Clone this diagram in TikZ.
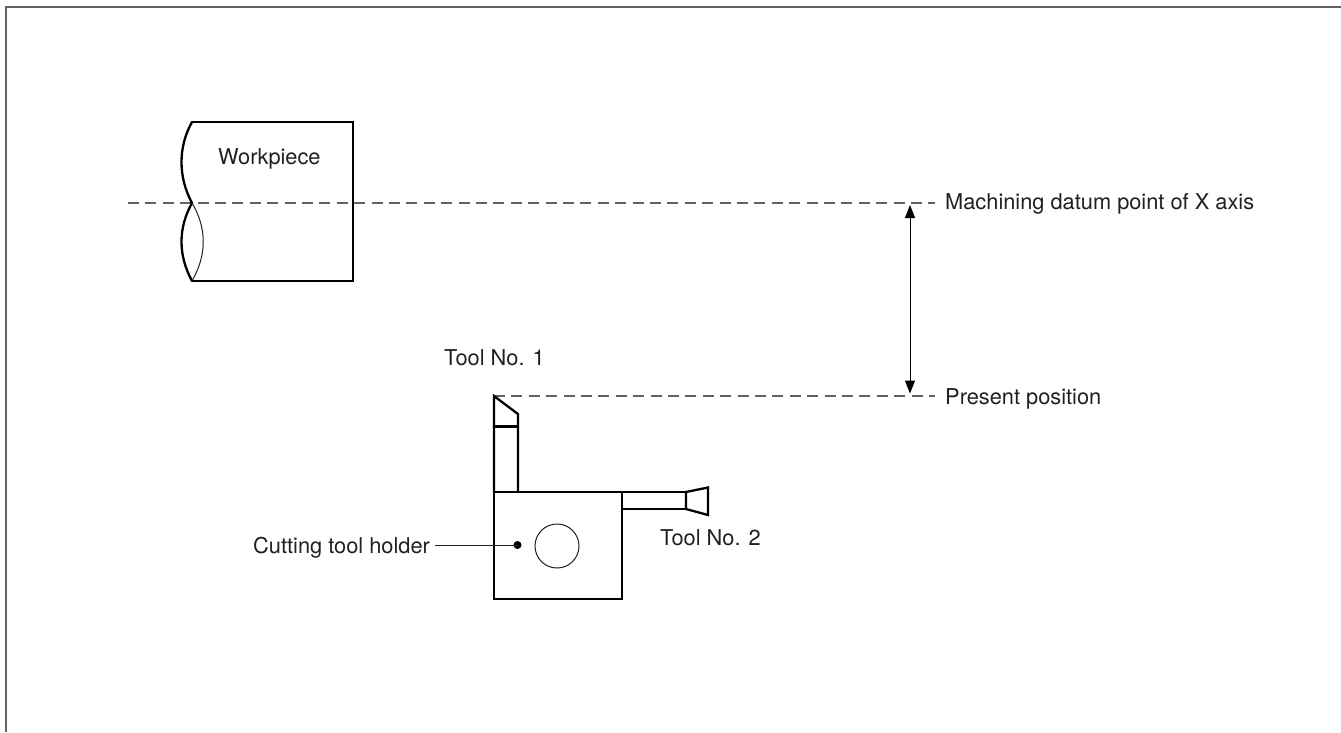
\documentclass[tikz,border=0pt]{standalone}
\usepackage{fontspec}
\setmainfont{TeX Gyre Heros}
\usetikzlibrary{arrows.meta}
\definecolor{ink}{HTML}{231F20}
\tikzset{
  x=1pt,y=-1pt,
  thick line/.style={draw=black,line width=2.3pt,line cap=round,line join=miter},
  thin line/.style={draw=ink,line width=1pt},
  datum/.style={draw=ink!70,line width=1.1pt,dash pattern=on 11pt off 6.4pt},
  label/.style={font=\fontsize{21.8pt}{24pt}\selectfont,text=ink,inner sep=0pt,anchor=base west},
  measure/.style={draw=black,line width=1pt,{Triangle[length=13pt,width=10pt]}-{Triangle[length=13pt,width=10pt]}}
}
\begin{document}
\begin{tikzpicture}
\useasboundingbox (0,0) rectangle (1341,732);
% frame
\draw[draw=ink!70,line width=1.4pt] (6,732) -- (6,7) -- (1341,7);
% coordinates
\coordinate (d0) at (128,203);
\coordinate (d1) at (935,203);
\coordinate (p0) at (494,396);
\coordinate (p1) at (935,396);
\coordinate (m0) at (910,205);
\coordinate (m1) at (910,393.5);
\coordinate (hold) at (517.5,545);
\coordinate (lead) at (435,545);
% datum lines
\draw[datum] (d0) -- (d1);
\draw[datum] (p0) -- (p1);
% workpiece
\draw[thick line] (192,122) -- (353,122) -- (353,281) -- (192,281);
\draw[thick line] (192,122) .. controls (178,147) and (178,177) .. (192,203)
  .. controls (178,228) and (178,255) .. (192,281);
\draw[thin line] (192,203) .. controls (207,228) and (207,255) .. (192,281);
% holder
\draw[thick line] (494,492) rectangle (622,599);
% tool 1
\draw[thick line] (494,492) -- (494,396) -- (518,414) -- (518,492);
\draw[thick line] (494,426.5) -- (518,426.5);
% tool 2
\draw[thick line] (622,492) -- (686,492);
\draw[thick line] (622,509) -- (686,509);
\draw[thick line] (686,492) -- (708,487.5) -- (708,515) -- (686,509) -- cycle;
% circle
\node[draw=ink,line width=1pt,circle,minimum size=44pt,inner sep=0pt] (bore) at (557,546) {};
\fill[black] (hold) circle (4pt);
\draw[thin line] (lead) -- (hold);
% arrow
\draw[measure] (m0) -- (m1);
% text
\node[label] (t1) at (218,164) {Workpiece};
\node[label] (t2) at (945,209) {Machining datum point of X axis};
\node[label] (t3) at (444,365) {Tool No. 1};
\node[label] (t4) at (945,404) {Present position};
\node[label] (t5) at (660,545) {Tool No. 2};
\node[label] (t6) at (253,553) {Cutting tool holder};
\end{tikzpicture}
\end{document}
